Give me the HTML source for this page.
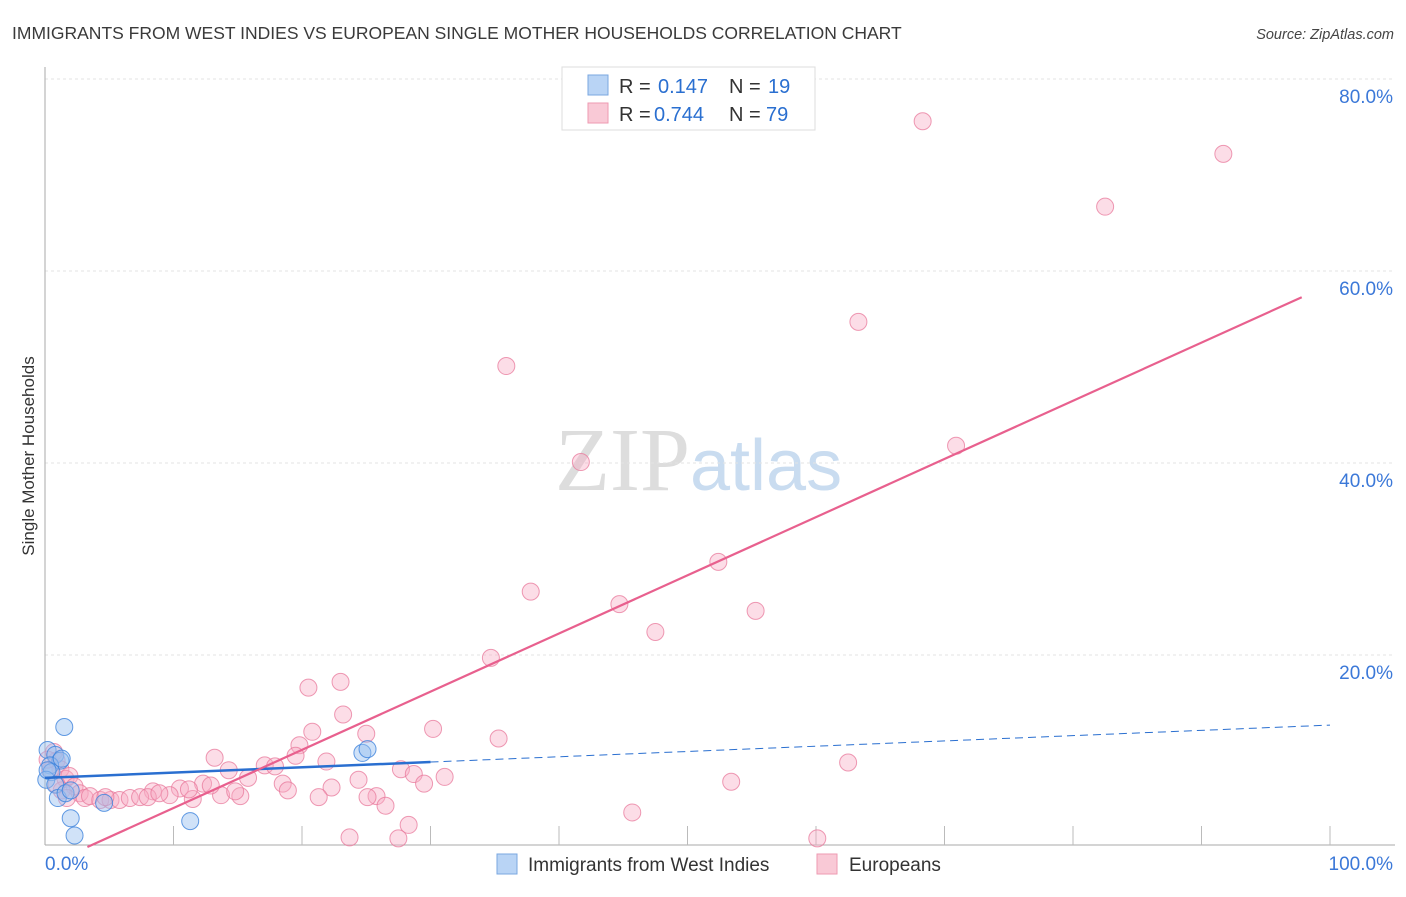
<!DOCTYPE html>
<html><head><meta charset="utf-8"><style>
body{margin:0;background:#fff;font-family:"Liberation Sans",sans-serif}
</style></head><body>
<svg id="chart" width="1406" height="892" xmlns="http://www.w3.org/2000/svg" font-family="Liberation Sans, sans-serif">
<text x="12" y="39" font-size="17.5" fill="#3a3a3a">IMMIGRANTS FROM WEST INDIES VS EUROPEAN SINGLE MOTHER HOUSEHOLDS CORRELATION CHART</text>
<text x="1394" y="39" font-size="14.5" fill="#444" text-anchor="end" font-style="italic">Source: ZipAtlas.com</text>
<text transform="translate(34,456) rotate(-90)" font-size="17" fill="#333" text-anchor="middle">Single Mother Households</text>
<text x="555" y="490" font-size="90" fill="#ddd" font-family="Liberation Serif, serif">ZIP<tspan fill="#c9dcf0" font-family="Liberation Sans, sans-serif" font-size="72">atlas</tspan></text>
<g id="grid"></g><g id="axes"></g><g id="pts"></g><g id="lines"></g>
<g>
<rect x="562" y="67" width="253" height="63" fill="#fff" stroke="#ddd"/>
<rect x="588" y="75" width="20" height="20" fill="#b9d4f5" stroke="#7aa7e0"/>
<rect x="588" y="103" width="20" height="20" fill="#f9c9d6" stroke="#ee9ab2"/>
<text x="619" y="93" font-size="20" fill="#333">R =</text><text x="658" y="93" font-size="20" fill="#2a6fd0">0.147</text>
<text x="729" y="93" font-size="20" fill="#333">N =</text><text x="768" y="93" font-size="20" fill="#2a6fd0">19</text>
<text x="619" y="121" font-size="20" fill="#333">R =</text><text x="654" y="121" font-size="20" fill="#2a6fd0">0.744</text>
<text x="729" y="121" font-size="20" fill="#333">N =</text><text x="766" y="121" font-size="20" fill="#2a6fd0">79</text>
</g>
<g>
<rect x="497" y="854" width="20" height="20" fill="#b9d4f5" stroke="#7aa7e0"/>
<text x="528" y="871" font-size="19" fill="#333">Immigrants from West Indies</text>
<rect x="817" y="854" width="20" height="20" fill="#f9c9d6" stroke="#ee9ab2"/>
<text x="849" y="871" font-size="19" fill="#333">Europeans</text>
</g>
</svg>
<script>
const yTicks=[20,40,60,80];
const xTickLabels=["0.0%","100.0%"];
const blueX=[1.5,0.2,0.8,1.2,0.4,0.5,0.1,0.8,1.0,1.6,2.0,4.6,2.0,2.3,11.3,24.7,25.1,0.2,1.3];
const blueY=[12.5,10.1,9.6,9.0,8.5,7.8,7.0,6.5,5.1,5.6,5.9,4.6,3.0,1.2,2.7,9.8,10.2,8.0,9.2];
const pinkX=[68.3,91.7,82.5,63.3,35.9,41.7,70.9,52.4,37.8,44.7,55.3,47.5,34.7,20.5,23.0,23.2,20.8,25.0,35.3,30.2,13.2,19.8,21.9,19.5,17.1,17.9,14.3,15.8,24.4,27.7,28.7,31.1,29.5,53.4,62.5,12.3,10.5,8.4,9.7,11.5,13.7,15.2,14.8,12.9,11.2,18.5,18.9,22.3,25.8,26.5,25.1,21.3,45.7,23.7,28.3,27.5,60.1,0.7,0.9,1.2,1.6,1.9,2.3,2.7,3.1,3.5,4.3,5.1,5.8,6.6,7.4,8.0,8.9,1.3,0.4,0.2,0.9,1.7,4.7];
const pinkY=[75.6,72.2,66.7,54.7,50.1,40.1,41.8,29.7,26.6,25.3,24.6,22.4,19.7,16.6,17.2,13.8,12.0,11.8,11.3,12.3,9.3,10.6,8.9,9.5,8.5,8.4,8.0,7.2,7.0,8.1,7.6,7.3,6.6,6.8,8.8,6.6,6.1,5.8,5.4,5.0,5.4,5.3,5.8,6.4,6.0,6.6,5.9,6.2,5.3,4.3,5.2,5.2,3.6,1.0,2.3,0.9,0.9,9.9,9.0,8.1,7.1,7.4,6.3,5.6,5.1,5.3,4.9,4.9,4.9,5.1,5.2,5.2,5.6,5.9,8.0,9.1,6.5,5.1,5.2];
const blueLine=[7.2,12.7];
const pinkLine=[-2.0,58.6];
const X=v=>45+v*12.85, Y=v=>847-v*9.6;
const NS="http://www.w3.org/2000/svg";
function mk(p,t,a){const e=document.createElementNS(NS,t);for(const k in a)e.setAttribute(k,a[k]);document.getElementById(p).appendChild(e);return e;}
yTicks.forEach(t=>{
 const l=mk('grid','line',{x1:45,x2:1395,y1:Y(t),y2:Y(t),stroke:'#e3e3e3','stroke-dasharray':'3,3'});
 
 
 const tx=mk('grid','text',{x:1393,y:Y(t)+24,'font-size':19,fill:'#3b78d8','text-anchor':'end'});
 tx.textContent=t.toFixed(1)+'%';
 
 
});
const ax=mk('axes','line',{x1:45,x2:45,y1:67,y2:845,stroke:'#aaa'});


const bx=mk('axes','line',{x1:45,x2:1395,y1:845,y2:845,stroke:'#aaa'});


for(let i=1;i<=10;i++){const t=mk('axes','line',{x1:X(i*10),x2:X(i*10),y1:826,y2:845,stroke:'#bbb'});
 
 }
[[0,45,'start'],[100,1393,'end']].forEach((d,i)=>{const t=mk('axes','text',{x:d[1],y:870,'font-size':19,fill:'#3b78d8','text-anchor':d[2]});t.textContent=xTickLabels[i];
 
 });
pinkX.forEach((x,i)=>{const c=mk('pts','circle',{cx:X(x),cy:Y(pinkY[i]),r:8.5,fill:'rgba(247,170,194,0.4)',stroke:'rgba(232,120,155,0.75)','stroke-width':1});
 
 });
blueX.forEach((x,i)=>{const c=mk('pts','circle',{cx:X(x),cy:Y(blueY[i]),r:8.5,fill:'rgba(150,190,240,0.45)',stroke:'rgba(60,130,220,0.8)','stroke-width':1});
 
 });
const by=x=>blueLine[0]+(blueLine[1]-blueLine[0])*x/100;
const b1=mk('lines','line',{x1:X(0),y1:Y(by(0)),x2:X(30),y2:Y(by(30)),stroke:'#2a6fd0','stroke-width':2.5});


const b2=mk('lines','line',{x1:X(30),y1:Y(by(30)),x2:X(100),y2:Y(by(100)),stroke:'#2a6fd0','stroke-width':1,'stroke-dasharray':'8,5'});


const py=x=>pinkLine[0]+(pinkLine[1]-pinkLine[0])*x/100;
const x0=-pinkLine[0]/((pinkLine[1]-pinkLine[0])/100);
const p=mk('lines','line',{x1:X(x0),y1:Y(py(x0)),x2:X(97.8),y2:Y(py(97.8)),stroke:'#e8608e','stroke-width':2.2});


</script>
</body></html>
